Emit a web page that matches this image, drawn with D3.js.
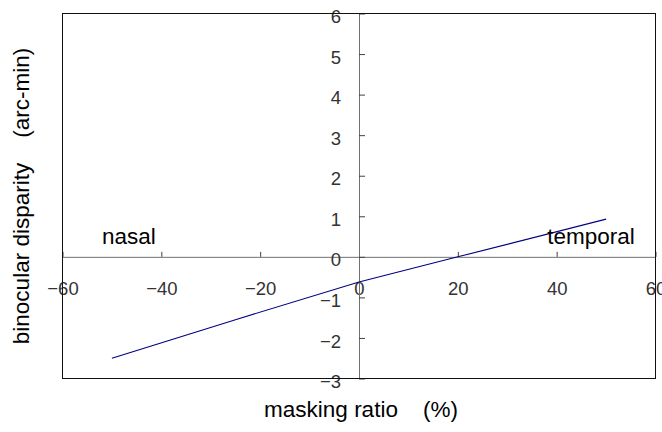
<!DOCTYPE html>
<html>
<head>
<meta charset="utf-8">
<script src="https://cdn.jsdelivr.net/npm/d3@7"></script>
<style>
  html, body { margin: 0; padding: 0; background: #fff; }
  svg { display: block; font-family: "Liberation Sans", Arial, sans-serif; }
  text { white-space: pre; }
</style>
</head>
<body>
<svg id="chart" width="662" height="432"></svg>
<script>
// ---- data ----
const maskingRatio = [-50, -25, 0, 20, 50];
const disparity = [-2.5, -1.55, -0.62, 0, 0.93];
const xTicks = [-60, -40, -20, 0, 20, 40, 60];
const yTicks = [-3, -2, -1, 0, 1, 2, 3, 4, 5, 6];
const xTitle = "masking ratio    (%)";
const yTitle = "binocular disparity    (arc-min)";
const sideLabels = ["nasal", "temporal"];
const sideLabelX = [-52, 38.1];
const sideLabelY = [0.31, 0.31];

// ---- layout ----
const svg = d3.select("#chart");
const plotLeft = 62.5, plotRight = 655.5, plotTop = 13.5, plotBottom = 378.5;
const x = d3.scaleLinear().domain([-60, 60]).range([plotLeft, plotRight]);
const y = d3.scaleLinear().domain([-3, 6]).range([plotBottom, plotTop]);
const fmt = d => (d < 0 ? "\u2212" + Math.abs(d) : String(d));

// x axis through y=0
const xAxisG = svg.append("g")
  .attr("transform", `translate(0,${y(0)})`)
  .call(d3.axisBottom(x).tickValues(xTicks).tickFormat(fmt)
    .tickSizeInner(-5).tickSizeOuter(0).tickPadding(0));
xAxisG.select(".domain").attr("stroke", "#707070");
xAxisG.selectAll(".tick line").attr("stroke", "#404040");
xAxisG.selectAll(".tick text")
  .attr("y", 38).attr("dy", null)
  .attr("fill", "#333").attr("font-size", "18.5px")
  .attr("font-family", "Liberation Sans, Arial, sans-serif");

// y axis through x=0
const yAxisG = svg.append("g")
  .attr("transform", `translate(${x(0)},0)`)
  .call(d3.axisLeft(y).tickValues(yTicks).tickFormat(fmt)
    .tickSizeInner(-6).tickSizeOuter(0).tickPadding(18));
yAxisG.select(".domain").attr("stroke", "#707070");
yAxisG.selectAll(".tick line").attr("stroke", "#404040");
yAxisG.selectAll(".tick text")
  .attr("dy", "0.49em")
  .attr("fill", "#333").attr("font-size", "18.5px")
  .attr("font-family", "Liberation Sans, Arial, sans-serif");

// plot frame
svg.append("rect")
  .attr("x", plotLeft).attr("y", plotTop)
  .attr("width", plotRight - plotLeft).attr("height", plotBottom - plotTop)
  .attr("fill", "none").attr("stroke", "#111").attr("stroke-width", 1);

// data line
const pts = maskingRatio.map((m, i) => [m, disparity[i]]);
svg.append("path")
  .datum(pts)
  .attr("fill", "none")
  .attr("stroke", "#000080")
  .attr("stroke-width", 1.1)
  .attr("d", d3.line().x(d => x(d[0])).y(d => y(d[1])));

// side labels
svg.selectAll("text.side").data(sideLabels).join("text")
  .attr("class", "side")
  .attr("x", (d, i) => x(sideLabelX[i]))
  .attr("y", (d, i) => y(sideLabelY[i]))
  .attr("font-size", "22.5px").attr("fill", "#000")
  .text(d => d);

// axis titles
svg.append("text")
  .attr("x", 361).attr("y", 417)
  .attr("text-anchor", "middle")
  .attr("font-size", "22.5px").attr("fill", "#000")
  .text(xTitle);

svg.append("text")
  .attr("transform", `translate(29,${(plotTop + plotBottom) / 2}) rotate(-90)`)
  .attr("text-anchor", "middle")
  .attr("font-size", "22.5px").attr("fill", "#000")
  .text(yTitle);
</script>
</body>
</html>
